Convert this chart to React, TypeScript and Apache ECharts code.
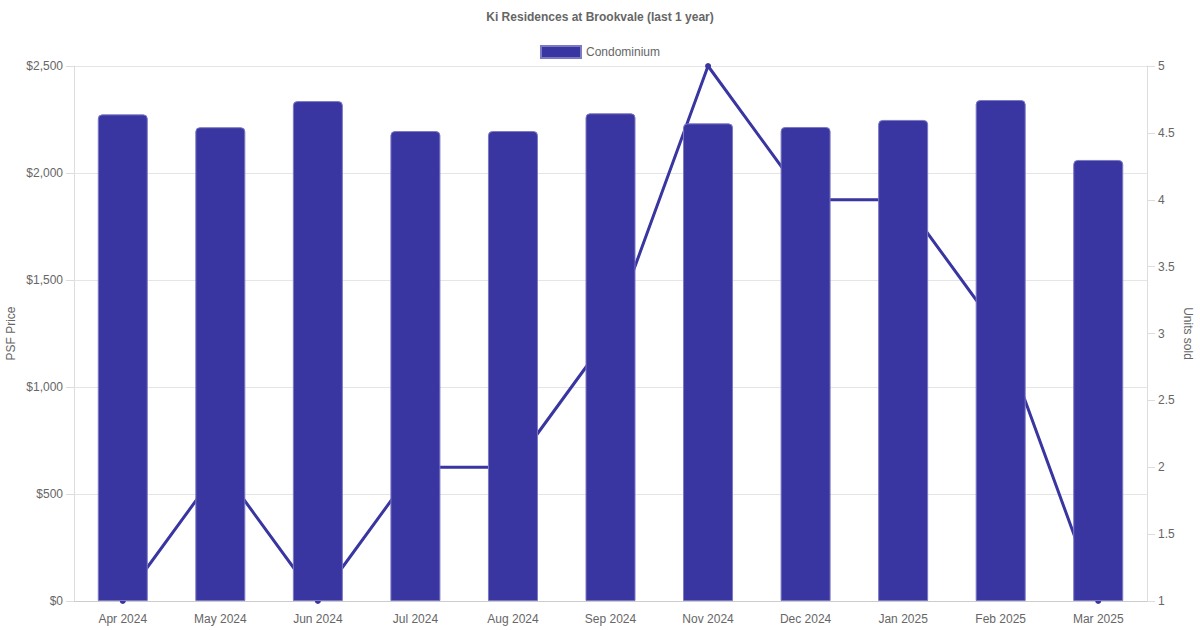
import React, { useEffect, useRef } from "react";
import * as echarts from "echarts";

const categories = ["Apr 2024", "May 2024", "Jun 2024", "Jul 2024", "Aug 2024", "Sep 2024", "Nov 2024", "Dec 2024", "Jan 2025", "Feb 2025", "Mar 2025"];
const psfPrice = [2274, 2214, 2336, 2196, 2196, 2279, 2232, 2215, 2248, 2341, 2061];
const unitsSold = [1, 2, 1, 2, 2, 3, 5, 4, 4, 3, 1];
const leftTicks = { min: 0, max: 2500, interval: 500 };
const rightTicks = { min: 1, max: 5, interval: 0.5 };

const FONT = "'Liberation Sans', Arial, Helvetica, sans-serif";
const COLOR = "#3935a1";
const TEXT = "#666666";

export default function App() {
  const ref = useRef<HTMLDivElement>(null);
  useEffect(() => {
    document.body.style.margin = "0";
    if (!ref.current) return;
    const chart = echarts.init(ref.current, null, { renderer: "svg" });
    chart.setOption({
      animation: false,
      textStyle: { fontFamily: FONT },
      title: {
        text: "Ki Residences at Brookvale (last 1 year)",
        left: "center",
        top: 6,
        textStyle: { fontSize: 12, fontWeight: "bold", color: TEXT, fontFamily: FONT },
      },
      legend: {
        top: 40,
        left: "center",
        itemWidth: 40,
        itemHeight: 12,
        itemGap: 10,
        data: [{ name: "Condominium", icon: "rect" }],
        textStyle: { fontSize: 12, color: TEXT, fontFamily: FONT },
      },
      grid: { left: 74, right: 53, top: 66, bottom: 29, containLabel: false, outerBoundsMode: "none" },
      xAxis: {
        type: "category",
        data: categories,
        axisLine: { show: true, lineStyle: { color: "#cccccc" } },
        axisTick: { show: false },
        axisLabel: { color: TEXT, fontSize: 12, margin: 12, fontFamily: FONT },
        splitLine: { show: false },
      },
      yAxis: [
        {
          type: "value",
          ...leftTicks,
          name: "PSF Price",
          nameLocation: "middle",
          nameGap: 57,
          nameMoveOverlap: false,
          nameTextStyle: { color: TEXT, fontSize: 12, fontFamily: FONT },
          axisLine: { show: true, lineStyle: { color: "#dddddd" } },
          axisTick: { show: true, length: 8, lineStyle: { color: "#dddddd" } },
          axisLabel: {
            color: TEXT,
            fontSize: 12,
            margin: 11,
            fontFamily: FONT,
            formatter: (v: number) => "$" + v.toLocaleString("en-US"),
          },
          splitLine: { show: true, lineStyle: { color: "#e5e5e5" } },
        },
        {
          type: "value",
          ...rightTicks,
          position: "right",
          name: "Units sold",
          nameLocation: "middle",
          nameGap: 35,
          nameMoveOverlap: false,
          nameRotate: -90,
          nameTextStyle: { color: TEXT, fontSize: 12, fontFamily: FONT },
          axisLine: { show: true, lineStyle: { color: "#dddddd" } },
          axisTick: { show: true, length: 8, lineStyle: { color: "#dddddd" } },
          axisLabel: { color: TEXT, fontSize: 12, margin: 11, fontFamily: FONT },
          splitLine: { show: false },
        },
      ],
      series: [
        {
          name: "Units",
          type: "line",
          yAxisIndex: 1,
          data: unitsSold,
          z: 1,
          symbol: "circle",
          symbolSize: 6,
          lineStyle: { color: COLOR, width: 3 },
          itemStyle: { color: COLOR },
        },
        {
          name: "Condominium",
          type: "bar",
          yAxisIndex: 0,
          data: psfPrice,
          z: 3,
          barWidth: 50,
          itemStyle: {
            color: COLOR,
            borderColor: "#7c79c4",
            borderWidth: 1,
            borderRadius: [4, 4, 0, 0],
          },
        },
      ],
    });
    return () => chart.dispose();
  }, []);
  return <div ref={ref} style={{ width: 1200, height: 630 }} />;
}
